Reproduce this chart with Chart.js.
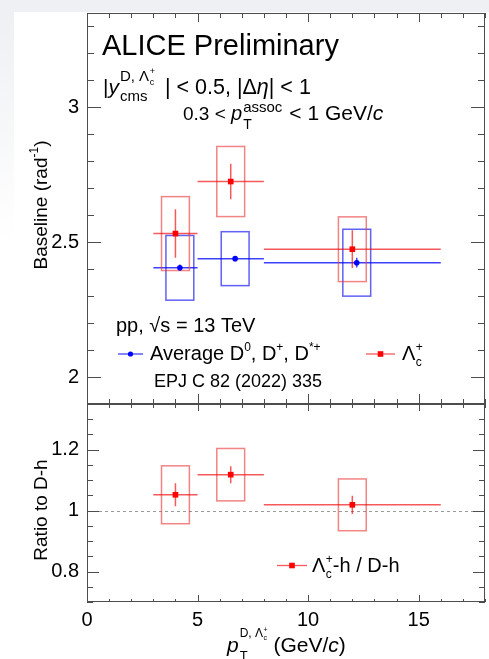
<!DOCTYPE html>
<html>
<head>
<meta charset="utf-8">
<script src="https://cdn.jsdelivr.net/npm/chart.js@4"></script>
<style>
  html, body { margin: 0; padding: 0; background: #fff; }
  #wrap { position: relative; width: 489px; height: 659px; overflow: hidden; background: #fff; }
  #band { position: absolute; left: 0; top: 0; width: 489px; height: 12px; background: #eef0f4; }
  #side { position: absolute; left: 0; top: 12px; width: 14px; height: 230px; background: linear-gradient(#eef0f4, #fff); }
  canvas { position: absolute; left: 0; }
  #topPanel { top: 0; }
  #ratioPanel { top: 380px; }
</style>
</head>
<body>
<div id="wrap">
  <div id="band"></div>
  <div id="side"></div>
  <canvas id="topPanel" width="489" height="410"></canvas>
  <canvas id="ratioPanel" width="489" height="279"></canvas>
</div>
<script>
// ---- data ----
// pT bins (GeV/c)
const binLow  = [3, 5, 8];
const binHigh = [5, 8, 16];

// Average D0, D+, D*+ baseline
const dPt   = [4.2, 6.7, 12.2];
const dBase = [2.405, 2.439, 2.424];
const dStat = [0.012, 0.010, 0.018];
const dSyst = [0.120, 0.100, 0.124];

// Lambda_c+ baseline
const lcPt   = [4.0, 6.5, 12.0];
const lcBase = [2.532, 2.725, 2.474];
const lcStat = [0.090, 0.066, 0.070];
const lcSyst = [0.137, 0.130, 0.120];

// Lambda_c+-h / D-h ratio
const ratio     = [1.052, 1.118, 1.019];
const ratioStat = [0.038, 0.028, 0.030];
const ratioSyst = [0.095, 0.086, 0.085];

// tick labels
const xTickValues     = [0, 5, 10, 15];
const baseTickValues  = [2, 2.5, 3];
const ratioTickValues = [0.8, 1, 1.2];
const unityLine = 1;

// ---- style ----
const FAMILY = '"Liberation Sans", Arial, Helvetica, sans-serif';
const BOX_HALF = 0.63;       // half width of systematic boxes (GeV/c)
const FRAME = '#4d4d4d';
const RED = '#ff0000', BLUE = '#0000ff';

function setFont(ctx, size, italic) {
  ctx.font = (italic ? 'italic ' : '') + size + 'px ' + FAMILY;
}

// draws a run of text pieces (super/subscripts via dy and stacks); returns end x
function rich(ctx, x, y, items, draw = true) {
  let cx = x;
  for (const it of items) {
    if (it.x !== undefined) cx = it.x;
    if (it.gap) cx += it.gap;
    if (it.stack) {
      let w = 0;
      for (const part of it.stack) w = Math.max(w, rich(ctx, cx, y, part, draw) - cx);
      cx += w;
      continue;
    }
    if (!it.t) continue;
    setFont(ctx, it.s, it.i);
    if (draw) ctx.fillText(it.t, cx, y + (it.dy || 0));
    cx += ctx.measureText(it.t).width;
  }
  return cx;
}

function lambdaC(size, dy = 0) {
  const s = Math.round(size * 0.62);
  return [{ t: 'Λ', s: size, dy },
          { gap: 0.5, stack: [[{ t: '+', s, dy: dy - size * 0.45 }], [{ t: 'c', s, dy: dy + size * 0.28 }]] }];
}

function drawFrame(chart, c) {
  const { ctx, chartArea: a, scales } = chart;
  const xs = scales.x, ys = scales.y;
  ctx.save();
  ctx.strokeStyle = FRAME;
  ctx.lineWidth = 1;
  ctx.strokeRect(a.left + 0.5, a.top + 0.5, a.right - a.left - 1, a.bottom - a.top - 1);
  ctx.beginPath();
  for (let v = Math.ceil(xs.min); v <= xs.max; v++) {
    const px = Math.round(xs.getPixelForValue(v)) + 0.5;
    const major = v % 5 === 0;
    const lt = major ? c.xTopMajor : c.xTopMinor;
    const lb = major ? c.xBotMajor : c.xBotMinor;
    ctx.moveTo(px, a.top); ctx.lineTo(px, a.top + lt);
    ctx.moveTo(px, a.bottom); ctx.lineTo(px, a.bottom - lb);
  }
  const n0 = Math.ceil(ys.min / c.yMinor - 1e-6), n1 = Math.floor(ys.max / c.yMinor + 1e-6);
  for (let n = n0; n <= n1; n++) {
    const v = n * c.yMinor;
    const major = Math.abs(v / c.yMajor - Math.round(v / c.yMajor)) < 1e-6;
    const len = major ? c.yMajorLen : c.yMinorLen;
    const py = Math.round(ys.getPixelForValue(v)) + 0.5;
    ctx.moveTo(a.left, py); ctx.lineTo(a.left + len, py);
    ctx.moveTo(a.right, py); ctx.lineTo(a.right - len, py);
  }
  ctx.stroke();
  ctx.restore();
}

function drawErrors(chart, xv, yv, stat, syst, lineColor, boxColor) {
  const { ctx, scales: { x, y } } = chart;
  ctx.save();
  ctx.lineWidth = 1.5;
  for (let i = 0; i < xv.length; i++) {
    const px = x.getPixelForValue(xv[i]), py = y.getPixelForValue(yv[i]);
    const bl = x.getPixelForValue(xv[i] - BOX_HALF), br = x.getPixelForValue(xv[i] + BOX_HALF);
    const bt = y.getPixelForValue(yv[i] + syst[i]), bb = y.getPixelForValue(yv[i] - syst[i]);
    ctx.strokeStyle = boxColor;
    ctx.strokeRect(bl, bt, br - bl, bb - bt);
    ctx.strokeStyle = lineColor;
    ctx.beginPath();
    ctx.moveTo(x.getPixelForValue(binLow[i]), py); ctx.lineTo(x.getPixelForValue(binHigh[i]), py);
    ctx.moveTo(px, y.getPixelForValue(yv[i] + stat[i])); ctx.lineTo(px, y.getPixelForValue(yv[i] - stat[i]));
    ctx.stroke();
  }
  ctx.restore();
}

function legendMark(ctx, x0, x1, y, color, lineColor, square) {
  ctx.save();
  ctx.strokeStyle = lineColor; ctx.lineWidth = 1.3;
  ctx.beginPath(); ctx.moveTo(x0, y); ctx.lineTo(x1, y); ctx.stroke();
  ctx.fillStyle = color;
  const cx = (x0 + x1) / 2;
  if (square) ctx.fillRect(cx - 2.8, y - 2.8, 5.6, 5.6);
  else { ctx.beginPath(); ctx.arc(cx, y, 2.6, 0, Math.PI * 2); ctx.fill(); }
  ctx.restore();
}

function verticalTitle(ctx, x, yc, items) {
  ctx.save();
  ctx.translate(x, yc);
  ctx.rotate(-Math.PI / 2);
  const w = rich(ctx, 0, 0, items, false);
  rich(ctx, -w / 2, 0, items);
  ctx.restore();
}

const tickFont = { family: FAMILY, size: 20 };
const plainLabel = v => String(v);
// axes keep their fixed size and add no label overhang to the layout
const fixWidth = s => { s.width = 87; s.paddingTop = 0; s.paddingBottom = 0; };
const fixHeight = s => { s.height = 57; s.paddingLeft = 0; s.paddingRight = 0; };

// ---- baseline panel ----
const topDecor = {
  id: 'topDecor',
  beforeDatasetsDraw(chart) {
    drawErrors(chart, dPt, dBase, dStat, dSyst, 'rgba(0,0,255,0.75)', 'rgba(30,30,240,0.7)');
    drawErrors(chart, lcPt, lcBase, lcStat, lcSyst, 'rgba(240,0,0,0.65)', 'rgba(235,50,50,0.6)');
  },
  afterDraw(chart) {
    const ctx = chart.ctx;
    drawFrame(chart, { xTopMinor: 5, xTopMajor: 9, xBotMinor: 5, xBotMajor: 10,
                       yMinor: 0.1, yMajor: 0.5, yMinorLen: 7, yMajorLen: 14 });
    ctx.save();
    ctx.fillStyle = '#000';
    ctx.textBaseline = 'alphabetic';
    rich(ctx, 102, 55, [{ t: 'ALICE Preliminary', s: 29 }]);
    rich(ctx, 103, 94, [
      { t: '|', s: 21 }, { t: 'y', s: 21, i: true }, { gap: 1 },
      { stack: [
          [{ t: 'D, ', s: 15, dy: -13 }, ...lambdaC(15, -13)],
          [{ t: 'cms', s: 15, dy: 7 }]
      ] },
      { x: 165, t: '| < 0.5, |Δ', s: 21.5 }, { t: 'η', s: 21.5, i: true }, { t: '| < 1', s: 21.5 }
    ]);
    rich(ctx, 183, 120, [
      { t: '0.3 < ', s: 19 }, { t: 'p', s: 20, i: true }, { gap: 1 },
      { stack: [[{ t: 'assoc', s: 15, dy: -8 }], [{ t: 'T', s: 14, dy: 9 }]] },
      { gap: 7, t: '< 1 GeV/', s: 21 }, { t: 'c', s: 21, i: true }
    ]);
    rich(ctx, 116, 332, [{ t: 'pp, √s = 13 TeV', s: 20 }]);

    legendMark(ctx, 118, 143, 354, BLUE, 'rgba(0,0,255,0.75)', false);
    rich(ctx, 150, 360, [
      { t: 'Average D', s: 20 }, { t: '0', s: 12, dy: -9 },
      { t: ', D', s: 20 }, { t: '+', s: 12, dy: -9 },
      { t: ', D', s: 20 }, { t: '*+', s: 12, dy: -9 }
    ]);
    legendMark(ctx, 366, 395, 354, RED, 'rgba(240,0,0,0.65)', true);
    rich(ctx, 402, 360, lambdaC(20));

    rich(ctx, 154, 387, [{ t: 'EPJ C 82 (2022) 335', s: 18 }]);

    verticalTitle(ctx, 47, 205, [{ t: 'Baseline (rad', s: 19 }, { t: '-1', s: 12, dy: -9 }, { t: ')', s: 19 }]);
    ctx.restore();
  }
};

new Chart(document.getElementById('topPanel'), {
  type: 'scatter',
  data: {
    datasets: [
      { label: 'Average D0, D+, D*+', data: dPt.map((x, i) => ({ x, y: dBase[i] })),
        pointStyle: 'circle', pointRadius: 2.8, backgroundColor: BLUE, borderColor: BLUE, borderWidth: 0 },
      { label: 'Λc+', data: lcPt.map((x, i) => ({ x, y: lcBase[i] })),
        pointStyle: 'rect', pointRadius: 4, backgroundColor: RED, borderColor: RED, borderWidth: 0 }
    ]
  },
  options: {
    responsive: false, animation: false, devicePixelRatio: 1,
    layout: { padding: { top: 13, right: 1, bottom: 6, left: 0 } },
    plugins: { legend: { display: false }, tooltip: { enabled: false } },
    scales: {
      x: { type: 'linear', min: 0, max: 18, display: false },
      y: {
        type: 'linear', min: 1.9, max: 3.35,
        afterBuildTicks: s => { s.ticks = baseTickValues.map(v => ({ value: v })); },
        afterFit: fixWidth,
        grid: { display: false, drawTicks: false },
        border: { display: false },
        ticks: { padding: 8, color: '#000', font: tickFont, callback: plainLabel }
      }
    }
  },
  plugins: [topDecor]
});

// ---- ratio panel ----
const ratioDecor = {
  id: 'ratioDecor',
  beforeDatasetsDraw(chart) {
    const { ctx, chartArea: a, scales: { y } } = chart;
    ctx.save();
    ctx.strokeStyle = '#9a9a9a'; ctx.lineWidth = 1; ctx.setLineDash([3, 3]);
    const py = Math.round(y.getPixelForValue(unityLine)) + 0.5;
    ctx.beginPath(); ctx.moveTo(a.left, py); ctx.lineTo(a.right, py); ctx.stroke();
    ctx.restore();
    drawErrors(chart, lcPt, ratio, ratioStat, ratioSyst, 'rgba(240,0,0,0.65)', 'rgba(235,50,50,0.6)');
  },
  afterDraw(chart) {
    const ctx = chart.ctx;
    drawFrame(chart, { xTopMinor: 4, xTopMajor: 7, xBotMinor: 3, xBotMajor: 7,
                       yMinor: 0.05, yMajor: 0.2, yMinorLen: 6, yMajorLen: 12 });
    ctx.save();
    ctx.fillStyle = '#000';
    legendMark(ctx, 277, 307, 185.5, RED, 'rgba(240,0,0,0.65)', true);
    rich(ctx, 312, 192, [...lambdaC(20), { t: '-h / D-h', s: 20 }]);
    verticalTitle(ctx, 47, 130, [{ t: 'Ratio to D-h', s: 19 }]);
    rich(ctx, 227, 272, [
      { t: 'p', s: 21, i: true }, { gap: 1 },
      { stack: [[{ t: 'D, ', s: 12, dy: -15 }, ...lambdaC(12, -15)], [{ t: 'T', s: 13, dy: 8 }]] },
      { t: ' (GeV/', s: 21 }, { t: 'c', s: 21, i: true }, { t: ')', s: 21 }
    ]);
    ctx.restore();
  }
};

new Chart(document.getElementById('ratioPanel'), {
  type: 'scatter',
  data: {
    datasets: [
      { label: 'Λc+-h / D-h', data: lcPt.map((x, i) => ({ x, y: ratio[i] })),
        pointStyle: 'rect', pointRadius: 4, backgroundColor: RED, borderColor: RED, borderWidth: 0 }
    ]
  },
  options: {
    responsive: false, animation: false, devicePixelRatio: 1,
    layout: { padding: { top: 24, right: 1, bottom: 0, left: 0 } },
    plugins: { legend: { display: false }, tooltip: { enabled: false } },
    scales: {
      x: {
        type: 'linear', min: 0, max: 18,
        afterBuildTicks: s => { s.ticks = xTickValues.map(v => ({ value: v })); },
        afterFit: fixHeight,
        grid: { display: false, drawTicks: false },
        border: { display: false },
        ticks: { padding: 6, color: '#000', font: tickFont, autoSkip: false, maxRotation: 0, callback: plainLabel }
      },
      y: {
        type: 'linear', min: 0.7, max: 1.35,
        afterBuildTicks: s => { s.ticks = ratioTickValues.map(v => ({ value: v })); },
        afterFit: fixWidth,
        grid: { display: false, drawTicks: false },
        border: { display: false },
        ticks: { padding: 8, color: '#000', font: tickFont, callback: plainLabel }
      }
    }
  },
  plugins: [ratioDecor]
});
</script>
</body>
</html>
